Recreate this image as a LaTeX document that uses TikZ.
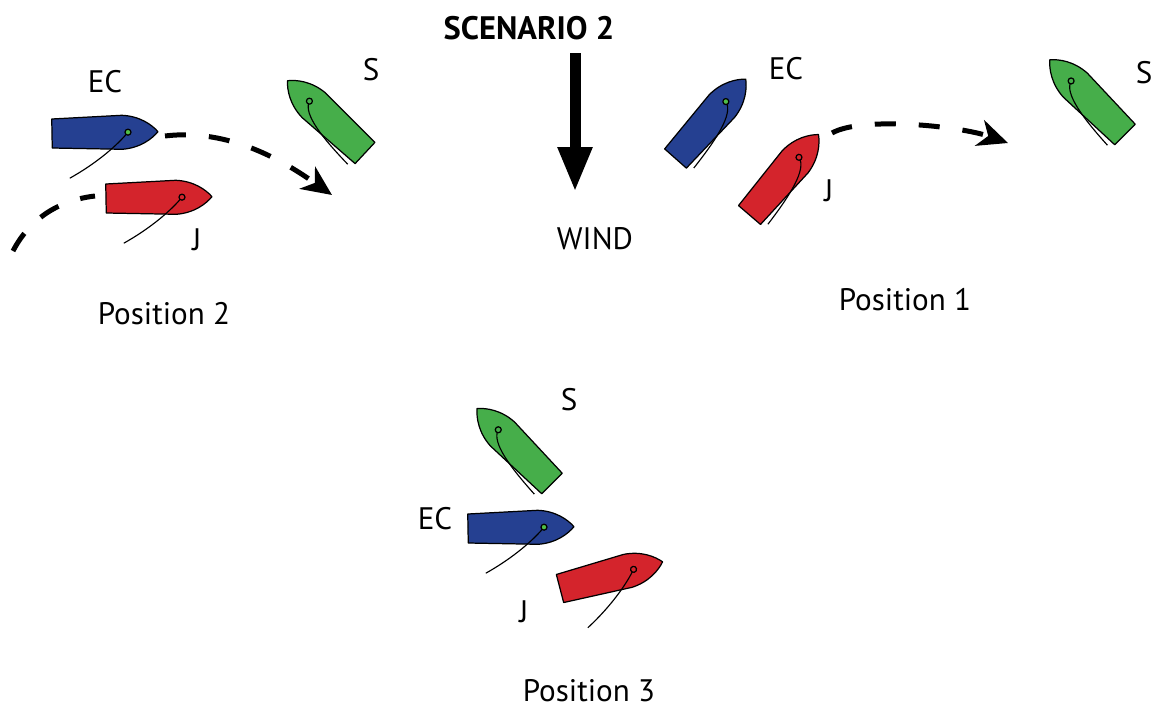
\documentclass[tikz,border=0pt]{standalone}
\usepackage{fontspec}
\setmainfont{PT Sans}
\usetikzlibrary{arrows.meta}

\definecolor{ecblue}{RGB}{37,64,145}
\definecolor{jred}{RGB}{212,36,44}
\definecolor{sgreen}{RGB}{70,174,74}
\definecolor{mastgreen}{RGB}{80,190,70}

% sheets, drawn in the boat's own frame (bow along +x, mast at 76)
\newcommand{\sheetrun}{\draw[sheet] (76,0) .. controls (66,12) and (45,30) .. (17,45);}
\newcommand{\sheetstbd}{\draw[sheet] (76,0) .. controls (72,14) and (40,18) .. (5,20);}
\newcommand{\sheetport}{\draw[sheet] (76,0) .. controls (72,-14) and (40,-18) .. (5,-20);}

% boat: stern centre, heading, hull colour, mast colour, sheet
\newcommand{\boat}[5]{%
  \begin{scope}[shift={#1}, rotate=#2]
    \draw[hull, fill=#3] (0,-14.5) -- (70,-17) .. controls (88,-16) and (100,-7) .. (106,0)
      .. controls (100,7) and (88,16) .. (70,17) -- (0,14.5) -- cycle;
    #5
    \draw[hull, fill=#4] (76,0) circle (0.6mm);
  \end{scope}}

\begin{document}
\begin{tikzpicture}[
    x=0.02cm, y=-0.02cm,
    hull/.style={draw=black, line width=0.7pt, line join=round},
    sheet/.style={draw=black, line width=0.65pt},
    track/.style={line width=1mm, dash pattern=on 4.2mm off 4.6mm,
      -{Stealth[length=6mm, width=5.4mm, inset=1.8mm]}},
    lbl/.style={font=\fontsize{17.7}{19}\selectfont, inner sep=0pt},
    title/.style={font=\fontsize{18.5}{20}\selectfont\bfseries, inner sep=0pt}
    ]
    \useasboundingbox (0,0) rectangle (1151,708);

    % Title and wind
    \node[title] (title) at (529,28) {SCENARIO 2};
    \coordinate (windtop) at (575,53);
    \coordinate (windtip) at (575,192);
    \draw[line width=2.2mm, -{Triangle[length=9mm, width=6.4mm]}] (windtop) -- (windtip);
    \node[lbl] (wind) at (595,239) {WIND};

    % Position 2
    \boat{(52,133.5)}{1}{ecblue}{mastgreen}{\sheetrun}
    \boat{(106,198.5)}{1}{jred}{jred}{\sheetrun}
    \boat{(365,153)}{137}{sgreen}{sgreen}{\sheetport}
    \node[lbl] (ec2) at (105,82) {EC};
    \node[lbl] (j2) at (197,240) {J};
    \node[lbl] (s2) at (371,70) {S};
    \node[lbl] (pos2) at (164,314) {Position 2};
    \coordinate (a2) at (165,136);
    \coordinate (b2) at (332,195);
    \coordinate (c2) at (13,251);
    \coordinate (d2) at (95,196);
    \draw[track] (a2) .. controls (230,128) and (285,162) .. (b2);
    \draw[track, -] (c2) .. controls (30,218) and (60,200) .. (d2);

    % Position 1
    \boat{(675.5,158.5)}{48.5}{ecblue}{mastgreen}{\sheetstbd}
    \boat{(749.5,215)}{49.4}{jred}{jred}{\sheetstbd}
    \boat{(1125,134.5)}{135.2}{sgreen}{sgreen}{\sheetport}
    \node[lbl] (ec1) at (786,69) {EC};
    \node[lbl] (j1) at (829,191) {J};
    \node[lbl] (s1) at (1144,73) {S};
    \node[lbl] (pos1) at (905,300) {Position 1};
    \coordinate (a1) at (832,133);
    \coordinate (b1) at (1008,143);
    \draw[track] (a1) .. controls (862,116) and (960,126) .. (b1);

    % Position 3
    \boat{(552,483.5)}{135}{sgreen}{sgreen}{\sheetport}
    \boat{(468,528.5)}{1}{ecblue}{mastgreen}{\sheetrun}
    \boat{(560,588.5)}{14.6}{jred}{jred}{\sheetrun}
    \node[lbl] (s3) at (569,400) {S};
    \node[lbl] (ec3) at (435,519) {EC};
    \node[lbl] (j3) at (524,612) {J};
    \node[lbl, anchor=base] (pos3) at (589,701) {Position 3};
\end{tikzpicture}
\end{document}
